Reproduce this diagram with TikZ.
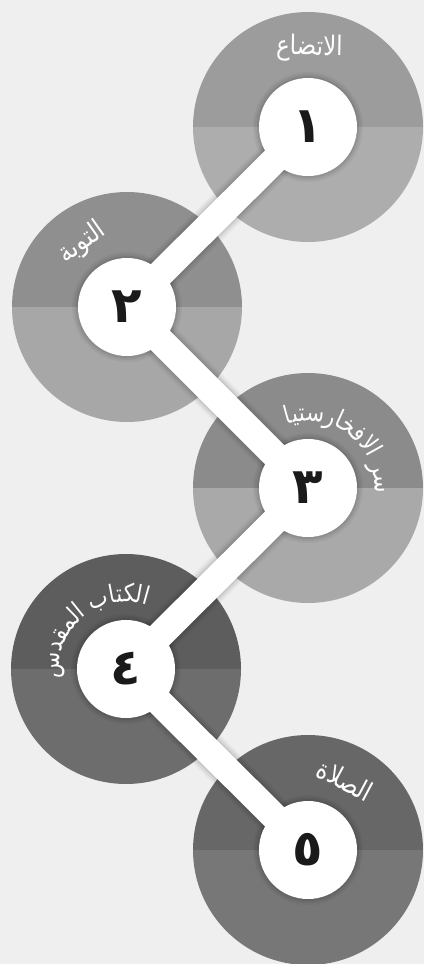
\documentclass[tikz,border=0pt]{standalone}
\usepackage{fontspec}
\newfontfamily\arabicfont[Script=Arabic, FakeStretch=0.85]{DejaVu Sans}
\newfontfamily\arabicglyphs[FakeStretch=0.85]{DejaVu Sans}
\newfontfamily\numfont[Script=Arabic]{DejaVu Sans}
\TeXXeTstate=1
\usepackage{tikz}
\usetikzlibrary{decorations.text,backgrounds}

\definecolor{bgcol}{HTML}{EFEFEF}
\definecolor{numcol}{HTML}{1A1A1A}
\definecolor{ringAtop}{HTML}{9C9C9C}
\definecolor{ringAbot}{HTML}{ADADAD}
\definecolor{ringBtop}{HTML}{8F8F8F}
\definecolor{ringBbot}{HTML}{A7A7A7}
\definecolor{ringCtop}{HTML}{8B8B8B}
\definecolor{ringCbot}{HTML}{A9A9A9}
\definecolor{ringDtop}{HTML}{5D5D5D}
\definecolor{ringDbot}{HTML}{6D6D6D}
\definecolor{ringEtop}{HTML}{676767}
\definecolor{ringEbot}{HTML}{777777}

\begin{document}
\begin{tikzpicture}[
  x=1pt, y=1pt,
  disc/.style={circle, fill=white, minimum size=98pt, inner sep=0pt,
    text=numcol, font=\numfont\bfseries\fontsize{50}{50}\selectfont},
  lbl/.style={text=white, inner sep=0pt,
    font=\arabicfont\fontsize{27}{27}\selectfont},
  bar/.style={white, line width=27pt},
]

\def\ro{115}   % ring radius
\def\rt{67}    % baseline radius of curved labels

\path[use as bounding box] (0,0) rectangle (424,-964);

%% Discs with numbers
\node[disc] (n1) at (308,-127) {١};
\node[disc] (n2) at (127,-307) {٢};
\node[disc] (n3) at (308,-488) {٣};
\node[disc] (n4) at (126,-669) {٤};
\node[disc] (n5) at (308,-850) {٥};

\begin{scope}[on background layer]
  \clip (0,0) rectangle (424,-964);
  \fill[bgcol] (0,0) rectangle (424,-964);

  %% Rings: darker upper half, lighter lower half
  \foreach \n/\c in {n1/A, n2/B, n3/C, n4/D, n5/E}{
    \fill[ring\c top] (\n.center) ++(0:\ro) arc[start angle=0, end angle=180, radius=\ro] -- cycle;
    \fill[ring\c bot] (\n.center) ++(180:\ro) arc[start angle=180, end angle=360, radius=\ro] -- cycle;
  }

  %% Soft shadow round the bars and discs
  \foreach \lw/\r/\o in {39pt/55/0.04, 35pt/53/0.05, 31pt/51/0.07}{
    \draw[black, opacity=\o, line width=\lw, line join=round]
      (n1.center) -- (n2.center) -- (n3.center) -- (n4.center) -- (n5.center);
    \foreach \n in {n1,n2,n3,n4,n5}
      \fill[black, opacity=\o] (\n.center) circle (\r);
  }

  %% Bars
  \draw[bar] (n1.center) -- (n2.center) -- (n3.center) -- (n4.center) -- (n5.center);
\end{scope}

%% Labels
\path (n1.center) ++(89:79)  node[lbl, rotate=-1] (t1) {\beginR الاتضاع\endR};
\path (n2.center) ++(125:78) node[lbl, rotate=35] (t2) {\beginR التوبة\endR};
\path (n5.center) ++(62:79)  node[lbl, rotate=-28] (t5) {\beginR الصلاة\endR};

%% Curved labels (glyphs in visual order)
\path[decorate, decoration={text along path, text align=center,
    text={|\arabicglyphs\color{white}\fontsize{25}{25}\selectfont|^^^^fe8e^^^^fef4^^^^fe98^^^^feb3^^^^fead^^^^fe8e^^^^fea8^^^^fed3^^^^fefb^^^^fe8d ^^^^feae^^^^feb3}}]
  (n3.center) ++(132:\rt) arc[start angle=132, end angle=-28, radius=\rt];
\path[decorate, decoration={text along path, text align=center,
    text={|\arabicglyphs\color{white}\fontsize{25}{25}\selectfont|^^^^feb1^^^^feaa^^^^fed8^^^^fee4^^^^fedf^^^^fe8d ^^^^fe8f^^^^fe8e^^^^fe98^^^^fedc^^^^fedf^^^^fe8d}}]
  (n4.center) ++(210:\rt) arc[start angle=210, end angle=50, radius=\rt];

\end{tikzpicture}
\end{document}
